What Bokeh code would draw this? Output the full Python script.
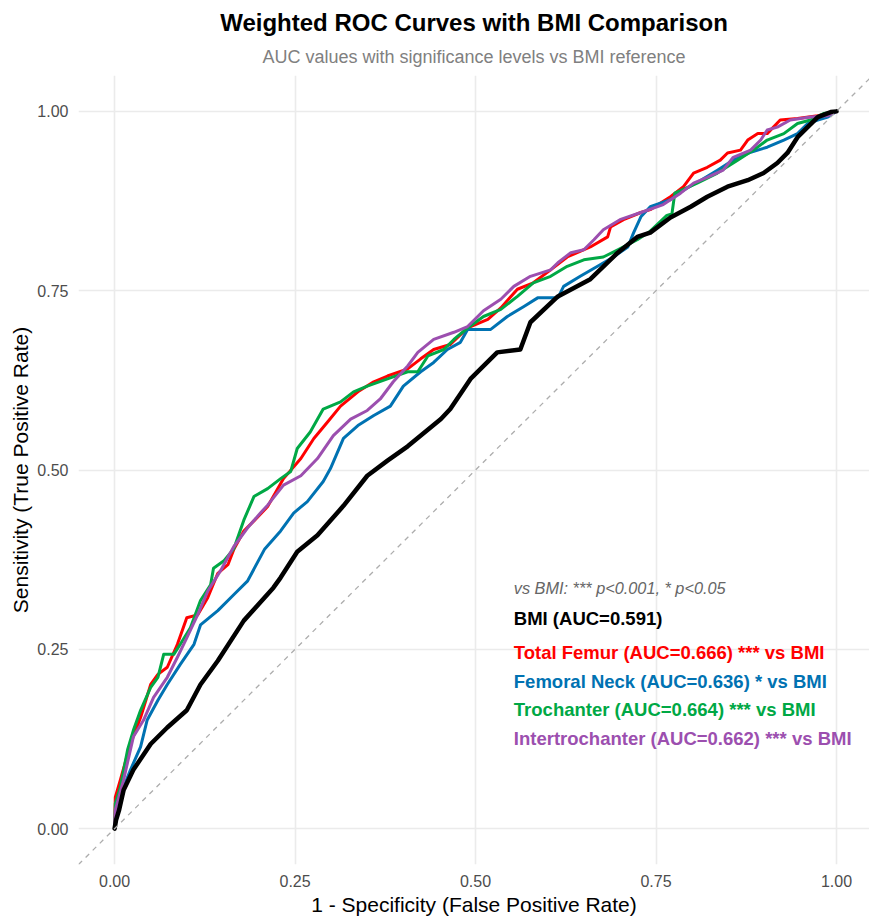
from bokeh.plotting import figure
from bokeh.models import Title, FixedTicker, Range1d, Slope, ColumnDataSource
from bokeh.embed import file_html
from bokeh.resources import INLINE
from bokeh.core.properties import value

# ---------------- data ----------------
bmi_fpr = [0, 0.002, 0.006, 0.0125, 0.026, 0.05, 0.073, 0.10, 0.119, 0.143, 0.179, 0.22, 0.23,
           0.253, 0.281, 0.317, 0.35, 0.378, 0.406, 0.452, 0.465, 0.493, 0.53, 0.562, 0.576,
           0.614, 0.659, 0.697, 0.724, 0.742, 0.77, 0.798, 0.821, 0.849, 0.877, 0.899, 0.918,
           0.932, 0.946, 0.96, 0.974, 0.992, 1.0]
bmi_tpr = [0, 0.012, 0.025, 0.054, 0.082, 0.118, 0.141, 0.165, 0.201, 0.234, 0.29, 0.336, 0.35,
           0.386, 0.409, 0.45, 0.492, 0.513, 0.533, 0.571, 0.585, 0.627, 0.664, 0.668, 0.706,
           0.742, 0.766, 0.803, 0.825, 0.831, 0.852, 0.867, 0.881, 0.895, 0.904, 0.914, 0.928,
           0.942, 0.964, 0.978, 0.992, 0.999, 1.0]

tf_fpr = [0, 0.001, 0.008, 0.022, 0.036, 0.05, 0.06, 0.073, 0.087, 0.10, 0.115, 0.129, 0.143,
          0.157, 0.165, 0.179, 0.193, 0.212, 0.234, 0.258, 0.276, 0.295, 0.313, 0.337, 0.359,
          0.378, 0.406, 0.424, 0.442, 0.465, 0.489, 0.517, 0.535, 0.558, 0.58, 0.604, 0.627,
          0.659, 0.683, 0.687, 0.705, 0.729, 0.742, 0.77, 0.788, 0.802, 0.821, 0.839, 0.849,
          0.867, 0.877, 0.891, 0.904, 0.922, 0.946, 0.974, 1.0]
tf_tpr = [0, 0.044, 0.068, 0.118, 0.155, 0.201, 0.215, 0.225, 0.257, 0.294, 0.298, 0.322, 0.356,
          0.368, 0.389, 0.415, 0.429, 0.449, 0.488, 0.516, 0.544, 0.567, 0.589, 0.609, 0.623,
          0.631, 0.641, 0.655, 0.668, 0.675, 0.698, 0.71, 0.726, 0.752, 0.761, 0.779, 0.797,
          0.811, 0.825, 0.839, 0.849, 0.859, 0.863, 0.881, 0.895, 0.914, 0.922, 0.932, 0.942,
          0.946, 0.96, 0.969, 0.969, 0.988, 0.99, 0.994, 1.0]

fn_fpr = [0, 0.001, 0.0125, 0.022, 0.036, 0.045, 0.06, 0.073, 0.091, 0.11, 0.119, 0.143, 0.165,
          0.184, 0.208, 0.23, 0.248, 0.267, 0.289, 0.299, 0.317, 0.337, 0.359, 0.382, 0.40,
          0.424, 0.442, 0.461, 0.479, 0.489, 0.521, 0.544, 0.567, 0.586, 0.614, 0.622, 0.645,
          0.669, 0.691, 0.711, 0.719, 0.729, 0.742, 0.77, 0.788, 0.812, 0.835, 0.857, 0.881,
          0.904, 0.927, 0.946, 0.96, 0.974, 0.988, 1.0]
fn_tpr = [0, 0.007, 0.058, 0.082, 0.114, 0.151, 0.179, 0.201, 0.229, 0.257, 0.284, 0.304, 0.326,
          0.345, 0.39, 0.415, 0.44, 0.456, 0.484, 0.502, 0.544, 0.562, 0.576, 0.589, 0.617,
          0.637, 0.650, 0.668, 0.678, 0.696, 0.696, 0.714, 0.728, 0.740, 0.740, 0.756, 0.770,
          0.784, 0.797, 0.811, 0.831, 0.853, 0.867, 0.877, 0.89, 0.904, 0.918, 0.932, 0.943,
          0.95, 0.96, 0.969, 0.983, 0.988, 0.992, 1.0]

tr_fpr = [0, 0.001, 0.008, 0.018, 0.026, 0.036, 0.05, 0.06, 0.068, 0.082, 0.091, 0.105, 0.119,
          0.133, 0.137, 0.151, 0.165, 0.179, 0.193, 0.212, 0.23, 0.244, 0.253, 0.271, 0.289,
          0.313, 0.331, 0.35, 0.378, 0.406, 0.42, 0.434, 0.456, 0.47, 0.489, 0.511, 0.535,
          0.558, 0.58, 0.604, 0.627, 0.65, 0.677, 0.697, 0.724, 0.742, 0.765, 0.772, 0.776,
          0.807, 0.835, 0.863, 0.885, 0.904, 0.927, 0.946, 0.964, 0.982, 1.0]
tr_tpr = [0, 0.035, 0.058, 0.11, 0.137, 0.165, 0.197, 0.211, 0.243, 0.243, 0.257, 0.28, 0.318,
          0.34, 0.363, 0.373, 0.39, 0.43, 0.463, 0.474, 0.488, 0.498, 0.53, 0.553, 0.585,
          0.595, 0.609, 0.617, 0.627, 0.637, 0.637, 0.659, 0.668, 0.682, 0.698, 0.714, 0.724,
          0.742, 0.761, 0.770, 0.784, 0.793, 0.797, 0.807, 0.821, 0.833, 0.855, 0.857, 0.886,
          0.90, 0.914, 0.932, 0.946, 0.96, 0.969, 0.983, 0.988, 0.997, 1.0]

it_fpr = [0, 0.001, 0.0125, 0.026, 0.04, 0.054, 0.073, 0.087, 0.10, 0.115, 0.129, 0.147, 0.165,
          0.184, 0.202, 0.212, 0.234, 0.258, 0.281, 0.303, 0.327, 0.35, 0.368, 0.386, 0.406,
          0.42, 0.442, 0.47, 0.489, 0.511, 0.535, 0.553, 0.576, 0.604, 0.614, 0.632, 0.65,
          0.664, 0.677, 0.70, 0.729, 0.76, 0.784, 0.802, 0.821, 0.843, 0.857, 0.881, 0.895,
          0.904, 0.918, 0.936, 0.964, 0.988, 1.0]
it_tpr = [0, 0.026, 0.068, 0.128, 0.151, 0.183, 0.211, 0.239, 0.266, 0.298, 0.331, 0.36, 0.393,
          0.419, 0.44, 0.451, 0.479, 0.492, 0.516, 0.548, 0.571, 0.583, 0.599, 0.623, 0.645,
          0.664, 0.682, 0.692, 0.70, 0.722, 0.738, 0.756, 0.770, 0.779, 0.789, 0.803, 0.807,
          0.821, 0.835, 0.849, 0.859, 0.870, 0.886, 0.9, 0.908, 0.918, 0.936, 0.946, 0.960,
          0.974, 0.978, 0.988, 0.992, 0.994, 1.0]

series_names = ["Total Femur", "Femoral Neck", "Trochanter", "Intertrochanter", "BMI"]
series_colors = ["#FF0000", "#0072B2", "#00A845", "#9C4FAF", "#000000"]
series_fpr = [tf_fpr, fn_fpr, tr_fpr, it_fpr, bmi_fpr]
series_tpr = [tf_tpr, fn_tpr, tr_tpr, it_tpr, bmi_tpr]

label_texts = ["BMI (AUC=0.591)",
               "Total Femur (AUC=0.666) *** vs BMI",
               "Femoral Neck (AUC=0.636) * vs BMI",
               "Trochanter (AUC=0.664) *** vs BMI",
               "Intertrochanter (AUC=0.662) *** vs BMI"]
label_colors = ["#000000", "#FF0000", "#0072B2", "#00A845", "#9C4FAF"]
note_text = "vs BMI: *** p<0.001, * p<0.05"

tick_values = [0, 0.25, 0.5, 0.75, 1.0]
tick_labels = ["0.00", "0.25", "0.50", "0.75", "1.00"]

# ---------------- figure ----------------
FONT = "Liberation Sans"
p = figure(width=869, height=918, title=None,
           x_range=Range1d(-0.05, 1.0457), y_range=Range1d(-0.05, 1.05),
           output_backend="svg", toolbar_location=None,
           min_border_left=78, min_border_right=0, min_border_top=75, min_border_bottom=50)

p.outline_line_color = None
p.background_fill_color = "white"
p.border_fill_color = "white"

sub = Title(text="AUC values with significance levels vs BMI reference", align="center",
            text_font=FONT, text_font_size="18px", text_font_style="normal",
            text_color="#808080", standoff=17)
main = Title(text="Weighted ROC Curves with BMI Comparison", align="center",
             text_font=FONT, text_font_size="24px", text_font_style="bold",
             text_color="#000000", standoff=1)
p.add_layout(sub, "above")
p.add_layout(main, "above")

for ax in (p.xaxis, p.yaxis):
    ax.ticker = FixedTicker(ticks=tick_values)
    ax.major_label_overrides = {v: l for v, l in zip(tick_values, tick_labels)}
    ax.axis_line_color = None
    ax.major_tick_line_color = None
    ax.minor_tick_line_color = None
    ax.major_tick_out = 0
    ax.major_tick_in = 0
    ax.minor_tick_out = 0
    ax.minor_tick_in = 0
    ax.major_label_text_font = FONT
    ax.major_label_text_font_size = "16px"
    ax.major_label_text_color = "#4D4D4D"
    ax.axis_label_text_font = FONT
    ax.axis_label_text_font_size = "21px"
    ax.axis_label_text_font_style = "normal"
    ax.axis_label_text_color = "#000000"

p.xaxis.axis_label = "1 - Specificity (False Positive Rate)"
p.yaxis.axis_label = "Sensitivity (True Positive Rate)"
p.xaxis.major_label_standoff = 10
p.yaxis.major_label_standoff = 10
p.xaxis.axis_label_standoff = 3
p.yaxis.axis_label_standoff = 2

p.xgrid.grid_line_color = "#EBEBEB"
p.ygrid.grid_line_color = "#EBEBEB"
p.xgrid.grid_line_width = 1.6
p.ygrid.grid_line_width = 1.6

# reference diagonal
p.add_layout(Slope(gradient=1, y_intercept=0, line_color="#ADADAD",
                   line_width=1.3, line_dash="5 5"))

# ROC curves
for name, col, fx, ty in zip(series_names, series_colors, series_fpr, series_tpr):
    src = ColumnDataSource(dict(x=fx, y=ty))
    p.line("x", "y", source=src, line_color=col,
           line_width=4.5 if name == "BMI" else 3.0, line_join="round", line_cap="round")

# annotations
label_x = 0.553
note_y = 0.336
label_y = [0.293, 0.245, 0.2055, 0.166, 0.126]
p.text(x=[label_x], y=[note_y], text=[note_text], text_color="#666666",
       text_font=value(FONT), text_font_size="16.3px", text_font_style="italic",
       text_baseline="alphabetic", text_align="left")
lab_src = ColumnDataSource(dict(x=[label_x] * len(label_texts), y=label_y,
                                text=label_texts, color=label_colors))
p.text(x="x", y="y", text="text", text_color="color", source=lab_src,
       text_font=value(FONT), text_font_size="18.5px", text_font_style="bold",
       text_baseline="alphabetic", text_align="left")

open("out.html", "w").write(file_html(p, INLINE))
